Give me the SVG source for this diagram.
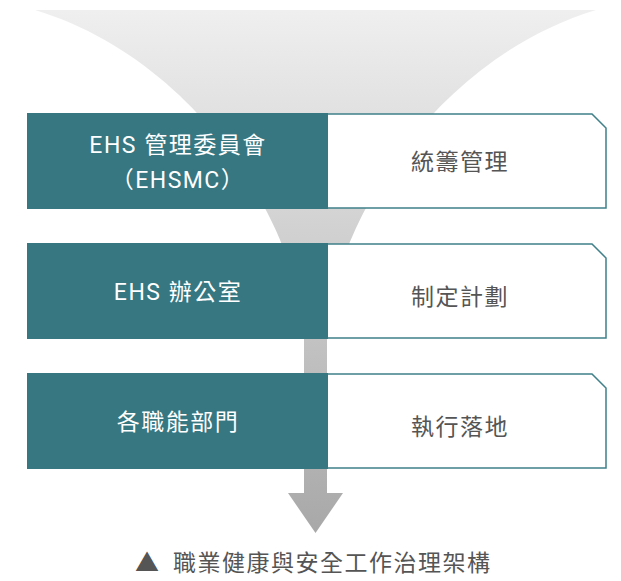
<svg xmlns="http://www.w3.org/2000/svg" width="621" height="581" viewBox="0 0 621 581">
  <defs>
    <linearGradient id="funnelGrad" gradientUnits="userSpaceOnUse" x1="0" y1="10" x2="0" y2="533">
      <stop offset="0" stop-color="#efefef"/>
      <stop offset="1" stop-color="#a8a8a8"/>
    </linearGradient>
  </defs>
  <style>
    .lead { fill: #367782; }
    .tag { fill: #ffffff; stroke: #3f808a; stroke-width: 1.5; }
    .t { font-family: "Roboto", "Noto Sans CJK TC", sans-serif; font-size: 23px; letter-spacing: 1.5px; text-anchor: middle; }
    .w { fill: #ffffff; }
    .g { fill: #555555; }
  </style>
  <rect width="621" height="581" fill="#ffffff"/>
  <g id="funnel">
    <path d="M35,10 H596 C431,60 331,230 327,338 V493 H343 L315.5,533 L288,493 H304 V338 C300,230 200,60 35,10 Z" fill="url(#funnelGrad)"/>
  </g>
  <g id="node-ehsmc">
    <rect class="lead" x="27" y="113" width="301" height="96"/>
    <text class="t w" x="178" y="153">EHS 管理委員會</text>
    <text class="t w" x="178" y="188">（EHSMC）</text>
  </g>
  <g id="node-overall">
    <path class="tag" d="M328,114 H592 L606,128 V208 H328"/>
    <text class="t g" x="460" y="169.5">統籌管理</text>
  </g>
  <g id="node-office">
    <rect class="lead" x="27" y="243" width="301" height="96"/>
    <text class="t w" x="178" y="300">EHS 辦公室</text>
  </g>
  <g id="node-plan">
    <path class="tag" d="M328,244 H592 L606,258 V338 H328"/>
    <text class="t g" x="460" y="305">制定計劃</text>
  </g>
  <g id="node-depts">
    <rect class="lead" x="27" y="373" width="301" height="96"/>
    <text class="t w" x="178" y="429.5">各職能部門</text>
  </g>
  <g id="node-exec">
    <path class="tag" d="M328,374 H592 L606,388 V468 H328"/>
    <text class="t g" x="460" y="434.5">執行落地</text>
  </g>
  <g id="connectors"/>
  <g id="caption">
    <text class="t g" x="147" y="571" style="font-family: 'Noto Sans CJK TC', sans-serif; font-size: 24px; letter-spacing: 0">▲</text>
    <text class="t g" x="173" y="571" style="text-anchor: start">職業健康與安全工作治理架構</text>
  </g>
</svg>
